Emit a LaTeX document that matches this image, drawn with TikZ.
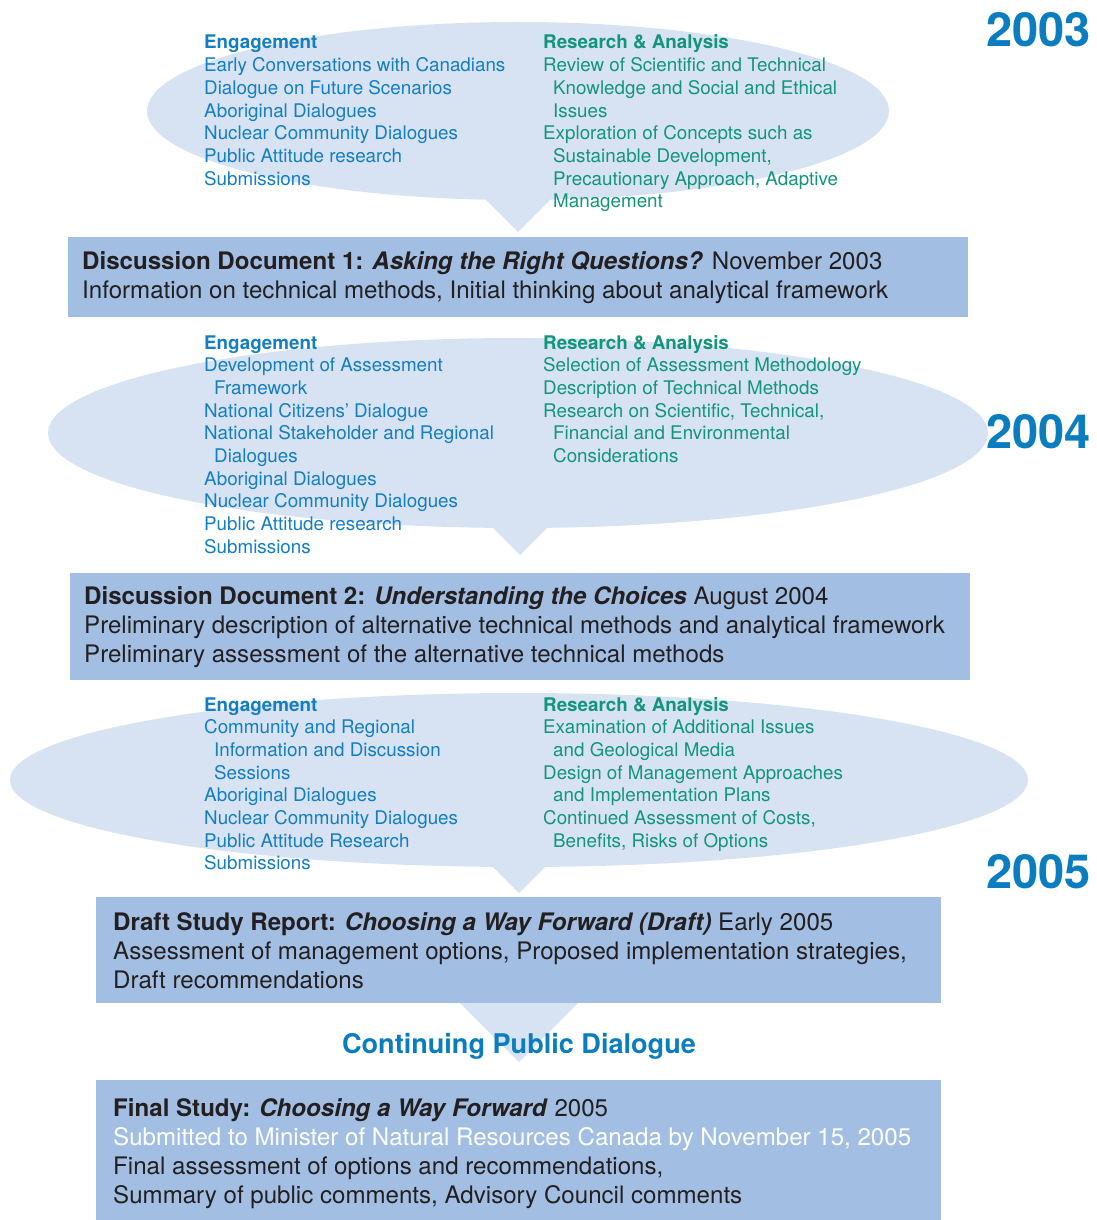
\documentclass[tikz,border=0pt]{standalone}
\usepackage{fontspec}
\setmainfont{TeX Gyre Heros}
\definecolor{bubblefill}{HTML}{D7E3F3}
\definecolor{boxfill}{HTML}{A2BFE3}
\definecolor{engblue}{HTML}{137EC3}
\definecolor{yearblue}{HTML}{0A7DC0}
\definecolor{resgreen}{HTML}{12957A}
\definecolor{darktext}{HTML}{231F20}
\newcommand\bubblefont{\fontsize{18.8}{22.7}\selectfont}
\newcommand\boxfont{\fontsize{24.1}{29}\selectfont}
\newcommand\yearfont{\fontsize{47}{50}\selectfont\bfseries}
\newcommand\linesof[1]{\begin{tabular}[t]{@{}l@{}}#1\end{tabular}}
\newcommand\ind{\hspace*{10pt}}
\begin{document}
\begin{tikzpicture}[x=1pt,y=-1pt,
  bubble/.style={fill=bubblefill,draw=none},
  boxstyle/.style={fill=boxfill,draw=none,anchor=north west,inner sep=0pt},
  eng/.style={anchor=base west,inner sep=0pt,text=engblue,font=\bubblefont},
  res/.style={anchor=base west,inner sep=0pt,text=resgreen,font=\bubblefont},
  boxtext/.style={anchor=base west,inner sep=0pt,text=darktext,font=\boxfont},
  year/.style={anchor=base east,inner sep=0pt,text=yearblue,font=\yearfont}]
\useasboundingbox (0,0) rectangle (1096,1220);

% ---- bubbles
\fill[bubble] (518,111) ellipse [x radius=371, y radius=89];
\fill[bubble] (473,187) -- (563,187) -- (518,232) -- cycle;
\fill[bubble] (518,433) ellipse [x radius=470, y radius=95];
\fill[bubble] (475,510) -- (565,510) -- (520,555) -- cycle;
\fill[bubble] (519,780) ellipse [x radius=509, y radius=87];
\fill[bubble] (474,848) -- (564,848) -- (519,893) -- cycle;
\fill[bubble] (460,1003) -- (578,1003) -- (519,1062) -- cycle;

% ---- boxes
\node[boxstyle,minimum width=900,minimum height=80] (box1) at (68,237) {};
\node[boxstyle,minimum width=900,minimum height=107] (box2) at (70,573) {};
\node[boxstyle,minimum width=845,minimum height=106] (box3) at (96,897) {};
\node[boxstyle,minimum width=845,minimum height=140] (box4) at (96,1080) {};

% ---- years
\node[year] (y2003) at (1091,47) {2003};
\node[year] (y2004) at (1091,448) {2004};
\node[year] (y2005) at (1091,888) {2005};

% ---- bubble 1
\node[eng] (e1) at (204,49) {\linesof{\textbf{Engagement}\\
Early Conversations with Canadians\\
Dialogue on Future Scenarios\\
Aboriginal Dialogues\\
Nuclear Community Dialogues\\
Public Attitude research\\
Submissions}};
\node[res] (r1) at (543,49) {\linesof{\textbf{Research \& Analysis}\\
Review of Scientific and Technical\\
\ind Knowledge and Social and Ethical\\
\ind Issues\\
Exploration of Concepts such as\\
\ind Sustainable Development,\\
\ind Precautionary Approach, Adaptive\\
\ind Management}};

% ---- box 1 text
\node[boxtext] (t1) at (82,269) {\linesof{\textbf{Discussion Document 1: \textit{Asking the Right Questions?}} November 2003\\
Information on technical methods, Initial thinking about analytical framework}};

% ---- bubble 2
\node[eng] (e2) at (204,349) {\linesof{\textbf{Engagement}\\
Development of Assessment\\
\ind Framework\\
National Citizens’ Dialogue\\
National Stakeholder and Regional\\
\ind Dialogues\\
Aboriginal Dialogues\\
Nuclear Community Dialogues\\
Public Attitude research\\
Submissions}};
\node[res] (r2) at (543,349) {\linesof{\textbf{Research \& Analysis}\\
Selection of Assessment Methodology\\
Description of Technical Methods\\
Research on Scientific, Technical,\\
\ind Financial and Environmental\\
\ind Considerations}};

% ---- box 2 text
\node[boxtext] (t2) at (84,604) {\linesof{\textbf{Discussion Document 2: \textit{Understanding the Choices}} August 2004\\
Preliminary description of alternative technical methods and analytical framework\\
Preliminary assessment of the alternative technical methods}};

% ---- bubble 3
\node[eng] (e3) at (204,711) {\linesof{\textbf{Engagement}\\
Community and Regional\\
\ind Information and Discussion\\
\ind Sessions\\
Aboriginal Dialogues\\
Nuclear Community Dialogues\\
Public Attitude Research\\
Submissions}};
\node[res] (r3) at (543,711) {\linesof{\textbf{Research \& Analysis}\\
Examination of Additional Issues\\
\ind and Geological Media\\
Design of Management Approaches\\
\ind and Implementation Plans\\
Continued Assessment of Costs,\\
\ind Benefits, Risks of Options}};

% ---- box 3 text
\node[boxtext] (t3) at (113,930) {\linesof{\textbf{Draft Study Report: \textit{Choosing a Way Forward (Draft)}} Early 2005\\
Assessment of management options, Proposed implementation strategies,\\
Draft recommendations}};

% ---- continuing
\node[anchor=base,inner sep=0pt,text=yearblue,font=\fontsize{27.1}{32}\selectfont\bfseries] (cont) at (519,1053) {Continuing Public Dialogue};

% ---- box 4 text
\node[boxtext] (t4) at (113,1116) {\linesof{\textbf{Final Study: \textit{Choosing a Way Forward}} 2005\\
\textcolor{white}{Submitted to Minister of Natural Resources Canada by November 15, 2005}\\
Final assessment of options and recommendations,\\
Summary of public comments, Advisory Council comments}};
\end{tikzpicture}
\end{document}
